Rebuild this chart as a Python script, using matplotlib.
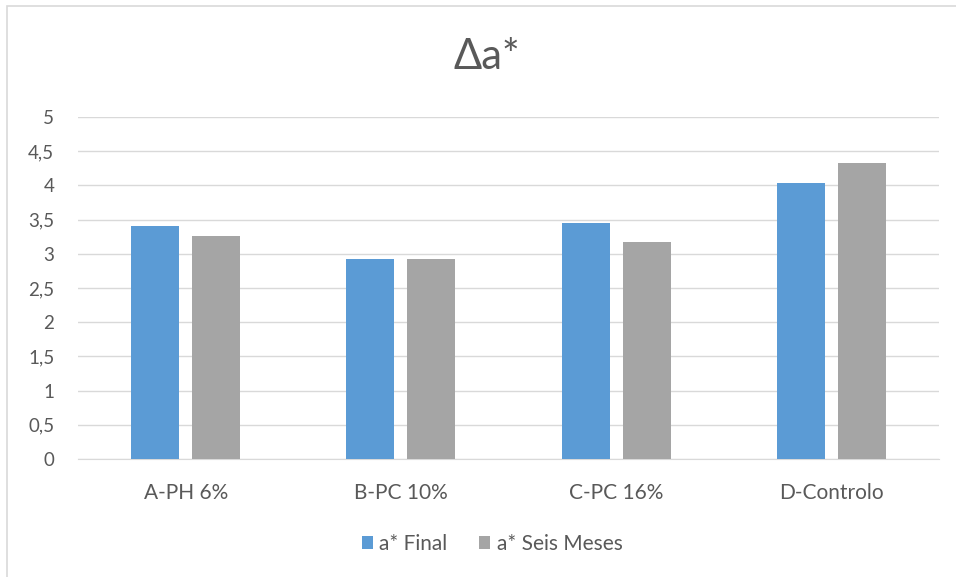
import numpy as np
import matplotlib
matplotlib.use('Agg')
import matplotlib.pyplot as plt
from matplotlib.ticker import FuncFormatter, MultipleLocator
from matplotlib.patches import Rectangle

categories = ['A-PH 6%', 'B-PC 10%', 'C-PC 16%', 'D-Controlo']
final_vals = [3.41, 2.93, 3.45, 4.03]
seis_meses = [3.26, 2.93, 3.17, 4.33]
series_names = ['a* Final', 'a* Seis Meses']

BLUE = '#5B9BD5'
GRAY = '#A5A5A5'
TXT = '#595959'
GRID = '#D9D9D9'

plt.rcParams['font.family'] = ['Lato', 'DejaVu Sans']

fig = plt.figure(figsize=(9.56, 5.77), dpi=100)
ax = fig.add_axes([78/956, 1 - 459/577, 861/956, 342/577])

x = np.arange(len(categories))
w = 0.223
gap = 0.06
ax.bar(x - (w + gap)/2, final_vals, w, color=BLUE, label=series_names[0], zorder=3)
ax.bar(x + (w + gap)/2, seis_meses, w, color=GRAY, label=series_names[1], zorder=3)

ax.set_xlim(-0.5, len(categories) - 0.5)
ax.set_ylim(0, 5)
ax.yaxis.set_major_locator(MultipleLocator(0.5))
ax.yaxis.set_major_formatter(FuncFormatter(lambda v, p: ('%g' % v).replace('.', ',')))
ax.set_xticks(x)
ax.set_xticklabels(categories)
ax.grid(axis='y', color=GRID, linewidth=1, zorder=0)
for s in ['top', 'right', 'left']:
    ax.spines[s].set_visible(False)
ax.spines['bottom'].set_color(GRID)
ax.tick_params(axis='both', length=0, colors=TXT)
ax.tick_params(axis='y', pad=17, labelsize=13.5)
ax.tick_params(axis='x', pad=17, labelsize=15)

fig.text(487/956, 1 - 57/577, 'Δa*', ha='center', va='center', fontsize=30, color=TXT)

leg = fig.legend(loc='center', bbox_to_anchor=(492/956, 1 - 544/577), ncol=2, frameon=False,
                 fontsize=15, handlelength=0.55, handleheight=0.55, handletextpad=0.3,
                 columnspacing=1.5)
for t in leg.get_texts():
    t.set_color(TXT)

# outer chart border
fig.patches.append(Rectangle((7/956, -0.01), 1.0, 1 - 6/577 + 0.01, transform=fig.transFigure,
                             fill=False, edgecolor=GRID, linewidth=1.2))

fig.savefig('out.png', dpi=100)
